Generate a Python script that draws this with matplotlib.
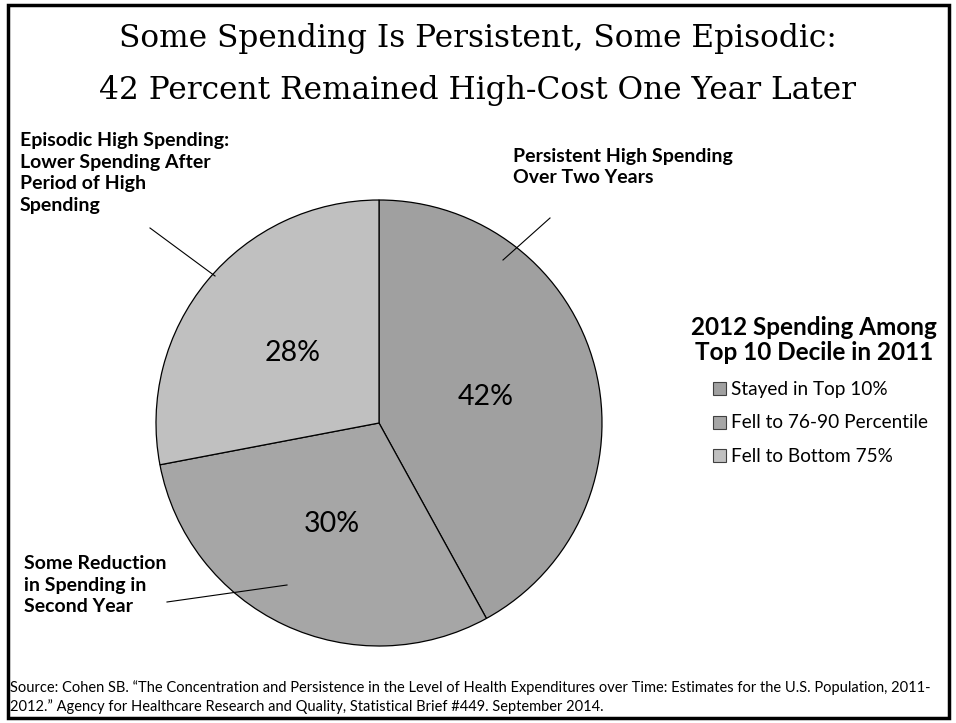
import matplotlib.pyplot as plt
from matplotlib.patches import Rectangle

# data
shares = [42, 30, 28]
pct_labels = ['42%', '30%', '28%']
slice_colors = ['#a0a0a0', '#a6a6a6', '#c0c0c0']
legend_names = ['Stayed in Top 10%', 'Fell to 76-90 Percentile', 'Fell to Bottom 75%']
title_lines = ['Some Spending Is Persistent, Some Episodic:',
               '42 Percent Remained High-Cost One Year Later']
callouts = ['Persistent High Spending\nOver Two Years',
            'Some Reduction\nin Spending in\nSecond Year',
            'Episodic High Spending:\nLower Spending After\nPeriod of High\nSpending']
source = ('Source: Cohen SB. \u201cThe Concentration and Persistence in the Level of Health '
          'Expenditures over Time: Estimates for the U.S. Population, 2011-\n'
          '2012.\u201d Agency for Healthcare Research and Quality, Statistical Brief #449. September 2014.')

W, H = 956, 723
fig = plt.figure(figsize=(W / 100, H / 100), dpi=100)
ax = fig.add_axes([0, 0, 1, 1])

sans = ['Lato', 'DejaVu Sans']
serif = ['DejaVu Serif']

# pie, pixel coords with y flipped
cx, cy, r = 379, H - 423, 223
wedges, _ = ax.pie(shares, colors=slice_colors, startangle=90, counterclock=False,
                   center=(cx, cy), radius=r, frame=True,
                   wedgeprops=dict(edgecolor='black', linewidth=0.9))
ax.set_xlim(0, W)
ax.set_ylim(0, H)
ax.set_aspect('auto')
ax.axis('off')

# percent labels
pct_pos = [(486, 397), (332, 524), (293, 353)]
for lab, (x, y) in zip(pct_labels, pct_pos):
    ax.text(x, H - y, lab, fontsize=20.5, ha='center', va='center', family=sans)

# callout labels and leader lines
lab_kw = dict(fontsize=14, fontweight='bold', ha='left', va='center', family=sans, linespacing=1.35)
ax.text(513, H - 167, callouts[0], **lab_kw)
ax.plot([550, 503], [H - 218, H - 260], color='black', lw=0.8)
ax.text(24, H - 585, callouts[1], **lab_kw)
ax.plot([167, 287], [H - 602, H - 585], color='black', lw=0.8)
ax.text(20, H - 173, callouts[2], **lab_kw)
ax.plot([150, 215], [H - 228, H - 276], color='black', lw=0.8)

# title
ax.text(478, H - 47, title_lines[0], fontsize=22.5, ha='center', va='baseline', family=serif)
ax.text(478, H - 99, title_lines[1], fontsize=22.5, ha='center', va='baseline', family=serif)

# legend
ax.text(814, H - 340, '2012 Spending Among\nTop 10 Decile in 2011', fontsize=17.5,
        fontweight='bold', ha='center', va='center', family=sans, linespacing=1.15)
for i, (name, col) in enumerate(zip(legend_names, slice_colors)):
    y = H - (389 + i * 33.5)
    ax.add_patch(Rectangle((713, y - 6), 13, 13, facecolor=col, edgecolor='#404040', lw=0.8))
    ax.text(731, y, name, fontsize=13.7, ha='left', va='center', family=sans)

# source
ax.text(10, H - 697, source, fontsize=10.5, ha='left', va='center', family=sans, linespacing=1.3)

# outer frame
ax.add_patch(Rectangle((8, 5), 941, 713, fill=False, edgecolor='black', lw=2.5))

fig.savefig('out.png', dpi=100)
